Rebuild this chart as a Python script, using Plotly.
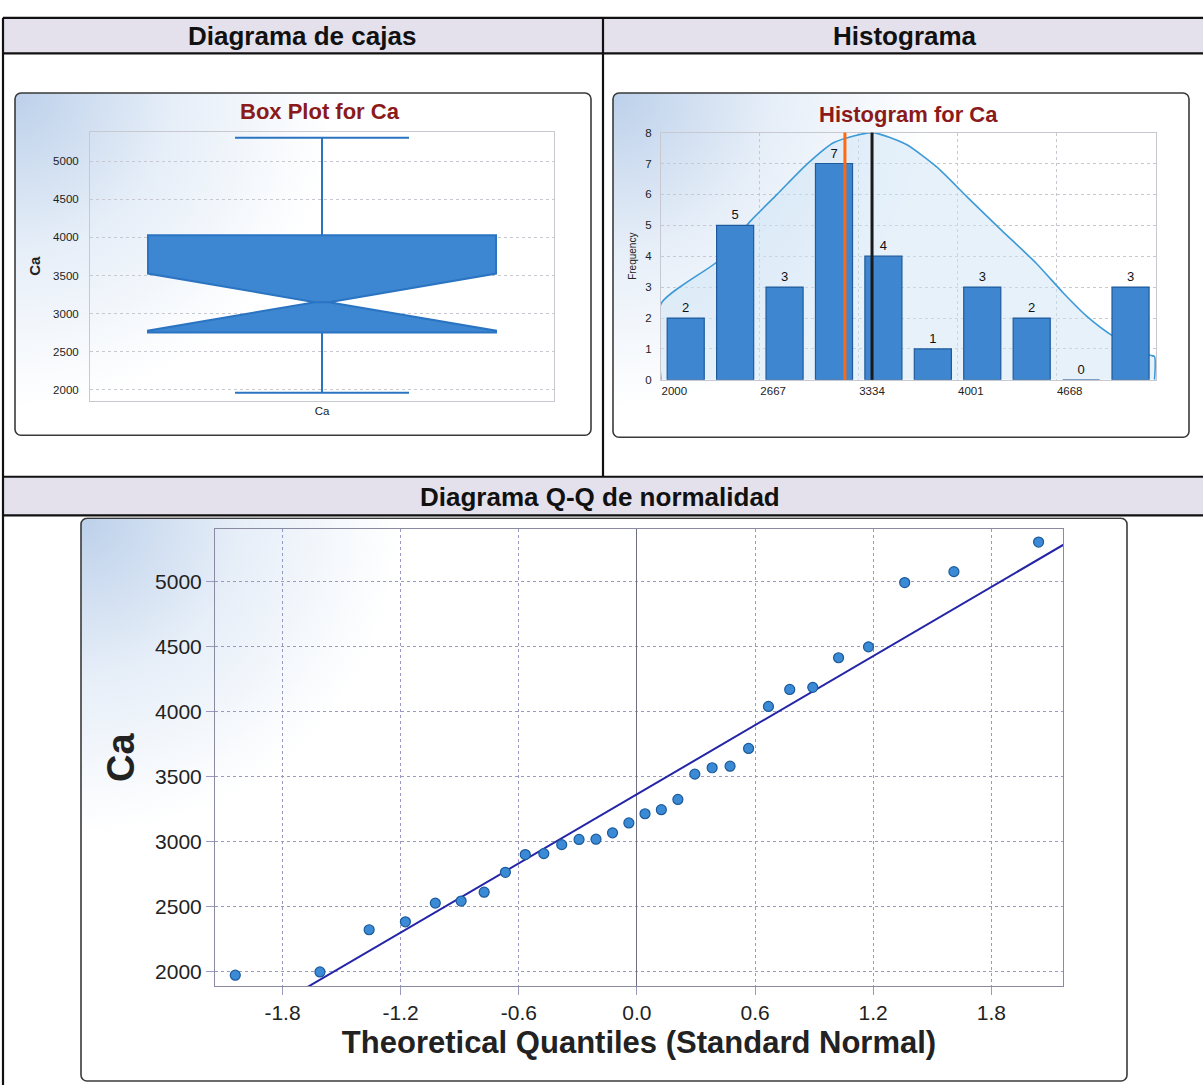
import base64
import plotly.graph_objects as go

W, H = 1203, 1091
FONT = "Liberation Sans, Arial, sans-serif"

# ---------------- data ----------------
box_category = ["Ca"]
box_q1 = [2750]
box_median = [3150]
box_q3 = [4030]
box_lowerfence = [1960]
box_upperfence = [5310]
box_notchspan = [375]

hist_counts = [2, 5, 3, 7, 4, 1, 3, 2, 0, 3]
hist_bin_start = 2000
hist_bin_width = 333.5
hist_tick_values = [2000, 2667, 3334, 4001, 4668]
hist_curve_x = [2000, 2000, 2391, 2600, 2783, 2985, 3167, 3424, 3653, 3862,
                4065, 4300, 4530, 4713, 4868, 5043, 5300, 5330, 5330]
hist_curve_y = [0, 2.46, 3.87, 5.12, 6.0, 6.98, 7.68, 8.0, 7.62, 6.88,
                5.92, 4.83, 3.78, 2.82, 2.08, 1.44, 0.8, 0.75, 0]
hist_median_marker = 3241
hist_mean_marker = 3424

qq_theoretical = [-2.040, -1.610, -1.360, -1.176, -1.024, -0.893, -0.776, -0.668, -0.567, -0.473,
                  -0.382, -0.294, -0.208, -0.124, -0.041, 0.041, 0.124, 0.208, 0.294, 0.382,
                  0.473, 0.567, 0.668, 0.776, 0.893, 1.024, 1.176, 1.360, 1.610, 2.040]
qq_ca = [1970, 1995, 2320, 2381, 2525, 2541, 2609, 2762, 2899, 2906,
         2975, 3015, 3017, 3066, 3142, 3213, 3244, 3323, 3518, 3567,
         3579, 3716, 4039, 4170, 4186, 4414, 4498, 4993, 5077, 5305]
qq_line_intercept = 3363
qq_line_slope = 887
qq_line_z = [-2.3, 2.3]
qq_x_ticks = [-1.8, -1.2, -0.6, 0.0, 0.6, 1.2, 1.8]
qq_x_ticktext = ["%.1f" % v for v in qq_x_ticks]

# ---------------- helpers ----------------
def PX(x):
    return x / W

def PY(y):
    return 1 - y / H

def panel_image(x0, y0, x1, y1, r=6):
    w, h = x1 - x0, y1 - y0
    svg = (f"<svg xmlns='http://www.w3.org/2000/svg' width='{w}' height='{h}' viewBox='0 0 {w} {h}'>"
           "<defs><radialGradient id='g' gradientUnits='userSpaceOnUse' cx='0' cy='0' r='320'>"
           "<stop offset='0' stop-color='#bcd0ea'/><stop offset='0.5' stop-color='#e6eef8'/>"
           "<stop offset='1' stop-color='#ffffff'/></radialGradient></defs>"
           f"<rect x='1' y='1' width='{w-2}' height='{h-2}' rx='{r}' ry='{r}' fill='url(#g)' "
           "stroke='#3a3a3a' stroke-width='1.6'/></svg>")
    src = "data:image/svg+xml;base64," + base64.b64encode(svg.encode()).decode()
    return dict(source=src, xref="paper", yref="paper", x=PX(x0), y=PY(y0),
                sizex=w / W, sizey=h / H, sizing="stretch", xanchor="left", yanchor="top",
                layer="below")

fig = go.Figure()

# ---------------- box plot ----------------
fig.add_trace(go.Box(
    x=[0], q1=box_q1, median=box_median, q3=box_q3,
    lowerfence=box_lowerfence, upperfence=box_upperfence,
    notchspan=box_notchspan, notched=True, notchwidth=0.48,
    width=0.75, whiskerwidth=0.5, boxpoints=False,
    fillcolor="#3d87d2", line=dict(color="#2a74c2", width=2),
    xaxis="x", yaxis="y", showlegend=False, name=box_category[0]))

# ---------------- histogram ----------------
hist_centers = [hist_bin_start + (i + 0.5) * hist_bin_width for i in range(len(hist_counts))]
fig.add_trace(go.Scatter(
    x=hist_curve_x, y=hist_curve_y, mode="lines",
    line=dict(color="#3d9ad8", width=1.6, shape="spline", smoothing=0.6),
    fill="tozeroy", fillcolor="rgba(205,228,246,0.5)", xaxis="x2", yaxis="y2", showlegend=False))
fig.add_trace(go.Bar(
    x=hist_centers, y=hist_counts, width=hist_bin_width * 0.75,
    marker=dict(color="#3e86cf", line=dict(color="#1f5a9c", width=1.2)),
    text=[str(c) for c in hist_counts], textposition="outside",
    textfont=dict(family=FONT, size=13, color="#111"), cliponaxis=False,
    xaxis="x4", yaxis="y4", showlegend=False))

# ---------------- QQ plot ----------------
fig.add_trace(go.Scatter(
    x=qq_line_z, y=[qq_line_intercept + qq_line_slope * z for z in qq_line_z],
    mode="lines", line=dict(color="#2424a8", width=2), xaxis="x3", yaxis="y3", showlegend=False))
fig.add_trace(go.Scatter(
    x=qq_theoretical, y=qq_ca, mode="markers",
    marker=dict(size=10, color="#3a8ad6", line=dict(color="#1b5a9a", width=1.2)),
    xaxis="x3", yaxis="y3", showlegend=False, cliponaxis=False))

grid_box = "#c8c8d0"
grid_qq = "#9a9ac0"

shapes = []
# header bands
for (x0, y0, x1, y1) in [(3, 12, 1203, 48), (3, 476, 1203, 515)]:
    shapes.append(dict(type="rect", x0=PX(x0), x1=PX(x1), y0=PY(y1), y1=PY(y0), xref="paper", yref="paper",
                       fillcolor="#e4e1ec", line=dict(width=0), layer="below"))

def hline(y, x0=3, x1=1203, w=2.2):
    shapes.append(dict(type="line", x0=PX(x0), x1=PX(x1), y0=PY(y), y1=PY(y), xref="paper", yref="paper",
                       line=dict(color="#111", width=w)))

def vline(x, y0, y1, w=2.2):
    shapes.append(dict(type="line", x0=PX(x), x1=PX(x), y0=PY(y0), y1=PY(y1), xref="paper", yref="paper",
                       line=dict(color="#111", width=w)))

hline(12); hline(48); hline(476); hline(515)
vline(3, 12, 1091); vline(603, 12, 476)

# histogram median / mean markers
shapes.append(dict(type="line", x0=hist_median_marker, x1=hist_median_marker, y0=0, y1=1,
                   xref="x2", yref="y2 domain", line=dict(color="#ff6a10", width=3)))
shapes.append(dict(type="line", x0=hist_mean_marker, x1=hist_mean_marker, y0=0, y1=1,
                   xref="x2", yref="y2 domain", line=dict(color="#1a1a1a", width=3)))

images = [panel_image(14, 87, 592, 435), panel_image(612, 87, 1190, 437), panel_image(80, 517, 1128, 1088)]

def ann(text, x, y, size, color="#111"):
    return dict(text=text, x=PX(x), y=PY(y), xref="paper", yref="paper", xanchor="center",
                yanchor="middle", showarrow=False, font=dict(family=FONT, size=size, color=color))

annotations = [
    ann("<b>Diagrama de cajas</b>", 302, 30, 26),
    ann("<b>Histograma</b>", 905, 30, 26),
    ann("<b>Diagrama Q-Q de normalidad</b>", 600, 496, 26),
    ann("<b>Box Plot for Ca</b>", 320, 107, 22, "#8b1a1a"),
    ann("<b>Histogram for Ca</b>", 908, 110, 22, "#8b1a1a"),
]

small = dict(family=FONT, size=11.5, color="#222")

fig.update_layout(
    width=W, height=H, margin=dict(l=0, r=0, t=0, b=0),
    paper_bgcolor="white", plot_bgcolor="white",
    font=dict(family=FONT),
    shapes=shapes, annotations=annotations, images=images, bargap=0.25,
    xaxis=dict(domain=[PX(90), PX(554)], range=[-0.5, 0.5], tickvals=[0], ticktext=box_category,
               showgrid=False, zeroline=False, showline=True, mirror=True, linecolor="#c8c8d0",
               tickfont=small, anchor="y"),
    yaxis=dict(domain=[PY(399), PY(127)], range=[1857, 5390], tick0=2000, dtick=500,
               showgrid=True, gridcolor=grid_box, griddash="dot", zeroline=False,
               showline=True, mirror=True, linecolor="#c8c8d0", tickfont=small, ticklabelstandoff=8,
               title=dict(text="<b>Ca</b>", font=dict(family=FONT, size=15, color="#222"), standoff=8),
               anchor="x"),
    xaxis2=dict(domain=[PX(661), PX(1156)], range=[2000, 5340], tickvals=hist_tick_values,
                ticklabelposition="outside right", showgrid=True, gridcolor=grid_box, griddash="dot",
                zeroline=False, showline=True, mirror=True, linecolor="#c8c8d0", tickfont=small,
                anchor="y2"),
    yaxis2=dict(domain=[PY(378), PY(128)], range=[0, 8], dtick=1, showgrid=True, gridcolor=grid_box,
                griddash="dot", zeroline=False, showline=True, mirror=True, linecolor="#c8c8d0",
                tickfont=small, ticklabelstandoff=6,
                title=dict(text="Frequency", font=dict(family=FONT, size=10, color="#222"), standoff=6),
                anchor="x2"),
    xaxis4=dict(overlaying="x2", range=[2000, 5340], visible=False, anchor="y4"),
    yaxis4=dict(overlaying="y2", range=[0, 8], visible=False, anchor="x4"),
    xaxis3=dict(domain=[PX(215), PX(1063)], range=[-2.143, 2.164], tickvals=qq_x_ticks, ticktext=qq_x_ticktext,
                showgrid=True, gridcolor=grid_qq, griddash="dot", zeroline=True, zerolinecolor="#707080",
                zerolinewidth=1.2, showline=True, mirror=True, linecolor="#8a8aa0",
                ticks="outside", ticklen=8, tickcolor=grid_qq,
                tickfont=dict(family=FONT, size=21, color="#222"),
                title=dict(text="<b>Theoretical Quantiles (Standard Normal)</b>",
                           font=dict(family=FONT, size=31, color="#222"), standoff=8),
                anchor="y3"),
    yaxis3=dict(domain=[PY(991), PY(529)], range=[1886, 5404], tick0=2000, dtick=500,
                showgrid=True, gridcolor=grid_qq, griddash="dot", zeroline=False,
                showline=True, mirror=True, linecolor="#8a8aa0",
                ticks="outside", ticklen=8, tickcolor=grid_qq,
                tickfont=dict(family=FONT, size=21, color="#222"),
                title=dict(text="<b>Ca</b>", font=dict(family=FONT, size=38, color="#222"), standoff=8),
                anchor="x3"),
)

fig.write_html("out.html", config={"displayModeBar": False},
               post_script="document.body.style.margin='0';document.body.style.overflow='hidden';")
